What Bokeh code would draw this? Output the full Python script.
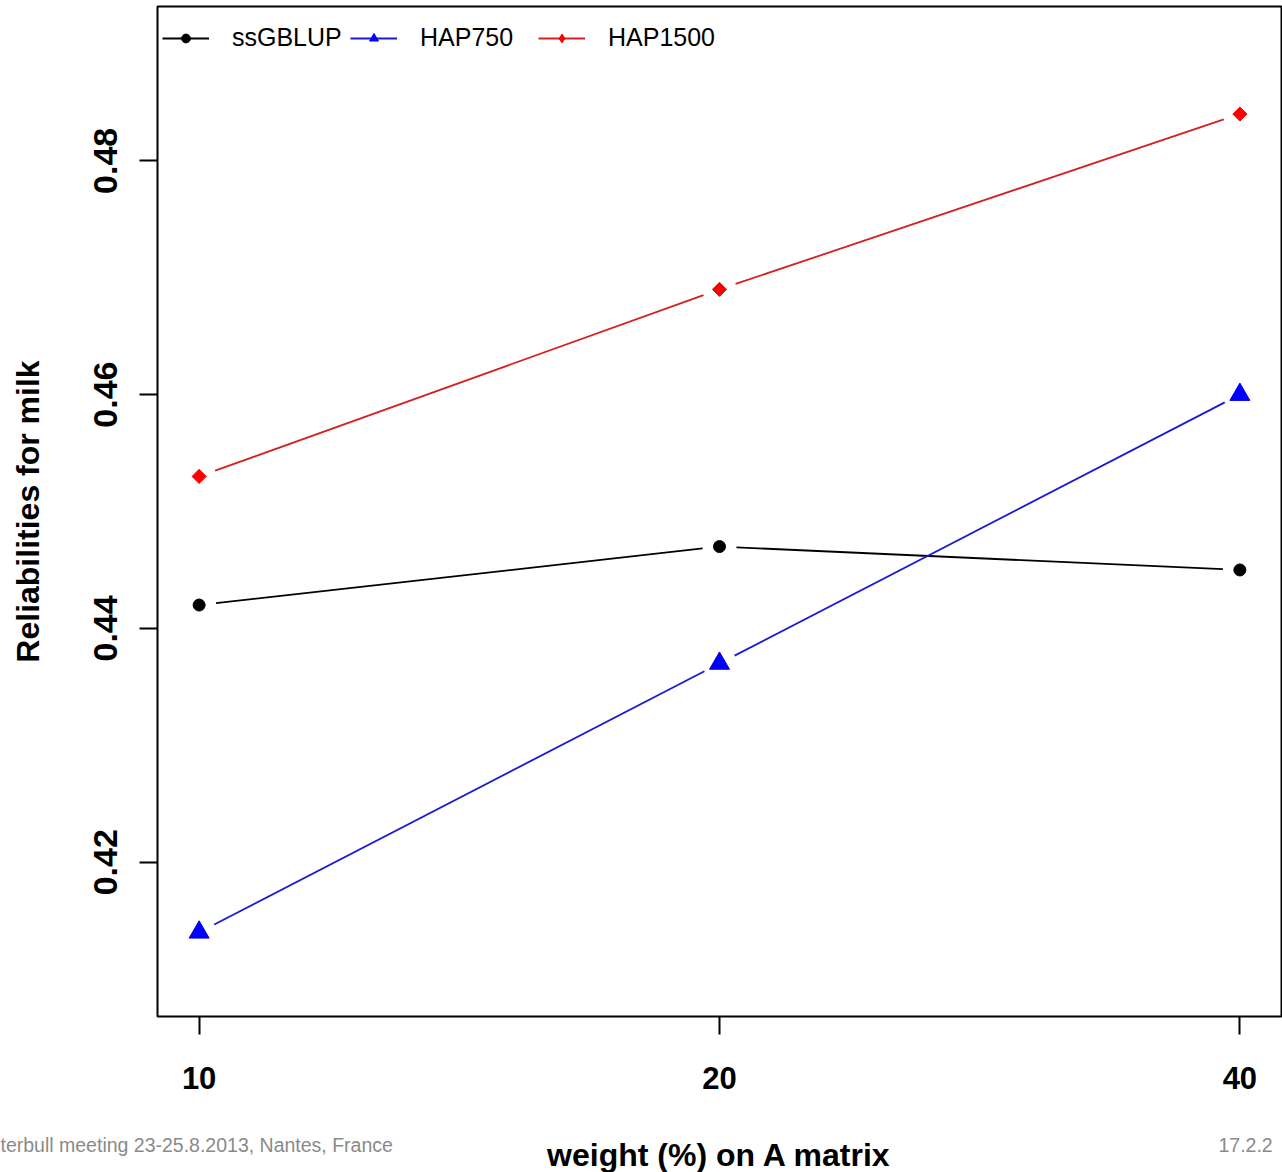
import numpy as np
from bokeh.plotting import figure
from bokeh.models import Range1d, FixedTicker, Legend, LegendItem, Label
from bokeh.embed import file_html
from bokeh.resources import INLINE

# ---- data ----
weights = ["10", "20", "40"]
ssgblup = [0.442, 0.447, 0.445]
hap750 = [0.414, 0.437, 0.460]
hap1500 = [0.453, 0.469, 0.484]
y_ticks = [0.42, 0.44, 0.46, 0.48]
series_names = ["ssGBLUP", "HAP750", "HAP1500"]
x_title = "weight (%) on A matrix"
y_title = "Reliabilities for milk"
footer_left = "terbull meeting 23-25.8.2013, Nantes, France"
footer_right = "17.2.2"

FONT = "Liberation Sans"
W, H = 1282, 1172
ML, MR, MT, MB = 157, 1, 6, 156
x0, x1 = 0.92, 3.08
y0, y1 = 0.4068, 0.4932

p = figure(width=W, height=H, output_backend="svg", toolbar_location=None,
           x_range=Range1d(x0, x1), y_range=Range1d(y0, y1),
           min_border_left=ML, min_border_right=MR, min_border_top=MT,
           min_border_bottom=MB, background_fill_color="white",
           border_fill_color="white")
p.grid.visible = False
p.outline_line_color = "black"
p.outline_line_width = 2
p.outline_line_alpha = 1

xs = list(range(1, len(weights) + 1))

# pixel scale (for R type="b" gaps around markers)
fw, fh = W - ML - MR, H - MT - MB
sx = fw / (x1 - x0)
sy = fh / (y1 - y0)
GAP = 17.0


def gapped_segments(xv, yv):
    x0s, y0s, x1s, y1s = [], [], [], []
    for i in range(len(xv) - 1):
        ax, ay = xv[i] * sx, yv[i] * sy
        bx, by = xv[i + 1] * sx, yv[i + 1] * sy
        d = np.hypot(bx - ax, by - ay)
        ux, uy = (bx - ax) / d, (by - ay) / d
        x0s.append((ax + ux * GAP) / sx)
        y0s.append((ay + uy * GAP) / sy)
        x1s.append((bx - ux * GAP) / sx)
        y1s.append((by - uy * GAP) / sy)
    return x0s, y0s, x1s, y1s


specs = [
    (ssgblup, "black", "black", dict(marker="circle", size=12), "circle", 10),
    (hap750, "#1a1ad0", "#0000ff", dict(marker="triangle", size=20), "triangle", 14),
    (hap1500, "#d42020", "#ff0000", dict(marker="square", size=10, angle=np.pi / 4), "diamond", 11),
]

items = []
for name, (vals, lc, mc, mk, lmark, lsize) in zip(series_names, specs):
    a, b, c, d = gapped_segments(xs, vals)
    p.segment(a, b, c, d, line_color=lc, line_width=1.8)
    p.scatter(xs, vals, fill_color=mc, line_color=mc, **mk)
    # legend proxies
    ln = p.line([np.nan], [np.nan], line_color=lc, line_width=1.8)
    pm = p.scatter([np.nan], [np.nan], fill_color=mc, line_color=mc,
                   marker=lmark, size=lsize)
    items.append(LegendItem(label=name, renderers=[ln, pm]))

legend = Legend(items=items, orientation="horizontal", location=(5, fh - 46),
                border_line_color=None, background_fill_alpha=0,
                label_text_font=FONT, label_text_font_size="25px",
                label_text_color="black", glyph_width=47, glyph_height=22,
                label_standoff=23, label_width=118, spacing=0,
                padding=6, margin=0)
p.add_layout(legend, "center")

# axes
p.xaxis.ticker = FixedTicker(ticks=xs)
p.xaxis.major_label_overrides = {x: w for x, w in zip(xs, weights)}
p.yaxis.ticker = FixedTicker(ticks=y_ticks)
p.yaxis.major_label_orientation = "vertical"

for ax in (p.xaxis[0], p.yaxis[0]):
    ax.axis_line_color = None
    ax.minor_tick_line_color = None
    ax.major_tick_in = 0
    ax.major_tick_out = 18
    ax.major_tick_line_width = 2
    ax.major_tick_line_color = "black"
    ax.major_label_text_font = FONT
    ax.major_label_text_font_style = "bold"
    ax.major_label_text_color = "black"
    ax.axis_label_text_font = FONT
    ax.axis_label_text_font_style = "bold"
    ax.axis_label_text_font_size = "32px"
    ax.axis_label_text_color = "black"

p.xaxis.major_label_text_font_size = "31px"
p.yaxis.major_label_text_font_size = "34px"
p.yaxis.axis_label = y_title
p.xaxis.major_label_standoff = 32
p.yaxis.major_label_standoff = 22
p.yaxis.axis_label_standoff = 46

# x-axis title and slide footer fragments, in the bottom panel (not clipped)
p.add_layout(Label(x=719, y=1154, x_units="canvas", y_units="canvas",
                   text=x_title, text_font=FONT, text_font_size="32px",
                   text_font_style="bold", text_color="black",
                   text_baseline="middle", text_align="center"), "below")
p.add_layout(Label(x=0, y=1144, x_units="canvas", y_units="canvas",
                   text=footer_left, text_font=FONT, text_font_size="19.5px",
                   text_color="#8a8a8a", text_baseline="middle",
                   text_align="left"), "below")
p.add_layout(Label(x=1218, y=1144, x_units="canvas", y_units="canvas",
                   text=footer_right, text_font=FONT, text_font_size="19.5px",
                   text_color="#8a8a8a", text_baseline="middle",
                   text_align="left"), "below")

open("out.html", "w").write(file_html(p, INLINE))
